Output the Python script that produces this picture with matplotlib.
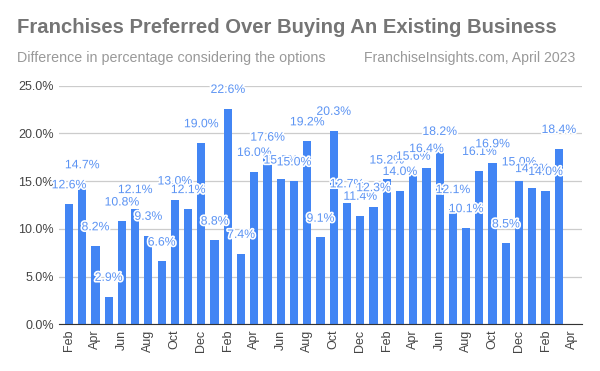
import matplotlib.pyplot as plt
import matplotlib.patheffects as pe
import numpy as np

# monthly values, Feb 2020 .. Mar 2023 (Apr 2023 slot left empty)
months = ["Feb", "Mar", "Apr", "May", "Jun", "Jul", "Aug", "Sep", "Oct", "Nov", "Dec", "Jan",
          "Feb", "Mar", "Apr", "May", "Jun", "Jul", "Aug", "Sep", "Oct", "Nov", "Dec", "Jan",
          "Feb", "Mar", "Apr", "May", "Jun", "Jul", "Aug", "Sep", "Oct", "Nov", "Dec", "Jan",
          "Feb", "Mar", "Apr"]
values = [12.6, 14.7, 8.2, 2.9, 10.8, 12.1, 9.3, 6.6, 13.0, 12.1, 19.0, 8.8,
          22.6, 7.4, 16.0, 17.6, 15.2, 15.0, 19.2, 9.1, 20.3, 12.7, 11.4, 12.3,
          15.2, 14.0, 15.6, 16.4, 18.2, 12.1, 10.1, 16.1, 16.9, 8.5, 15.0, 14.3,
          14.0, 18.4, np.nan]
yticks = [0, 5, 10, 15, 20, 25]

plt.rcParams['font.family'] = ['Liberation Sans', 'DejaVu Sans']

fig = plt.figure(figsize=(6, 3.71), dpi=100)
ax = fig.add_axes([0.0988, 0.1259, 0.8707, 0.6429])

x = np.arange(len(months))
blue = '#4285F4'
ax.bar(x, values, width=0.62, color=blue, zorder=2)

for xi, v in zip(x, values):
    if np.isnan(v):
        continue
    ax.annotate("%.1f%%" % v, (xi, v), xytext=(0, 13.5), textcoords='offset points',
                ha='center', va='center', fontsize=8.8, color='#5b93f3', zorder=3,
                path_effects=[pe.withStroke(linewidth=2.4, foreground='white')])

ax.set_xlim(-0.73, len(months) - 0.27)
ax.set_ylim(0, 25)
ax.set_yticks(yticks)
ax.set_yticklabels(["%.1f%%" % t for t in yticks], fontsize=9, color='#444444')
ax.set_xticks(x[::2])
ax.set_xticklabels(months[::2], rotation=90, fontsize=9, color='#444444')
ax.tick_params(axis='both', length=0, pad=4)
ax.grid(axis='y', color='#cccccc', linewidth=0.9, zorder=0)

for s in ['top', 'right', 'left']:
    ax.spines[s].set_visible(False)
ax.spines['bottom'].set_color('#333333')
ax.spines['bottom'].set_zorder(4)

fig.text(0.028, 0.925, "Franchises Preferred Over Buying An Existing Business",
         fontsize=14.6, fontweight='bold', color='#757575', va='center')
fig.text(0.028, 0.843, "Difference in percentage considering the options",
         fontsize=10.3, color='#999999', va='center')
fig.text(0.958, 0.843, "FranchiseInsights.com, April 2023",
         fontsize=10.1, color='#999999', va='center', ha='right')

fig.savefig('out.png', dpi=100)
